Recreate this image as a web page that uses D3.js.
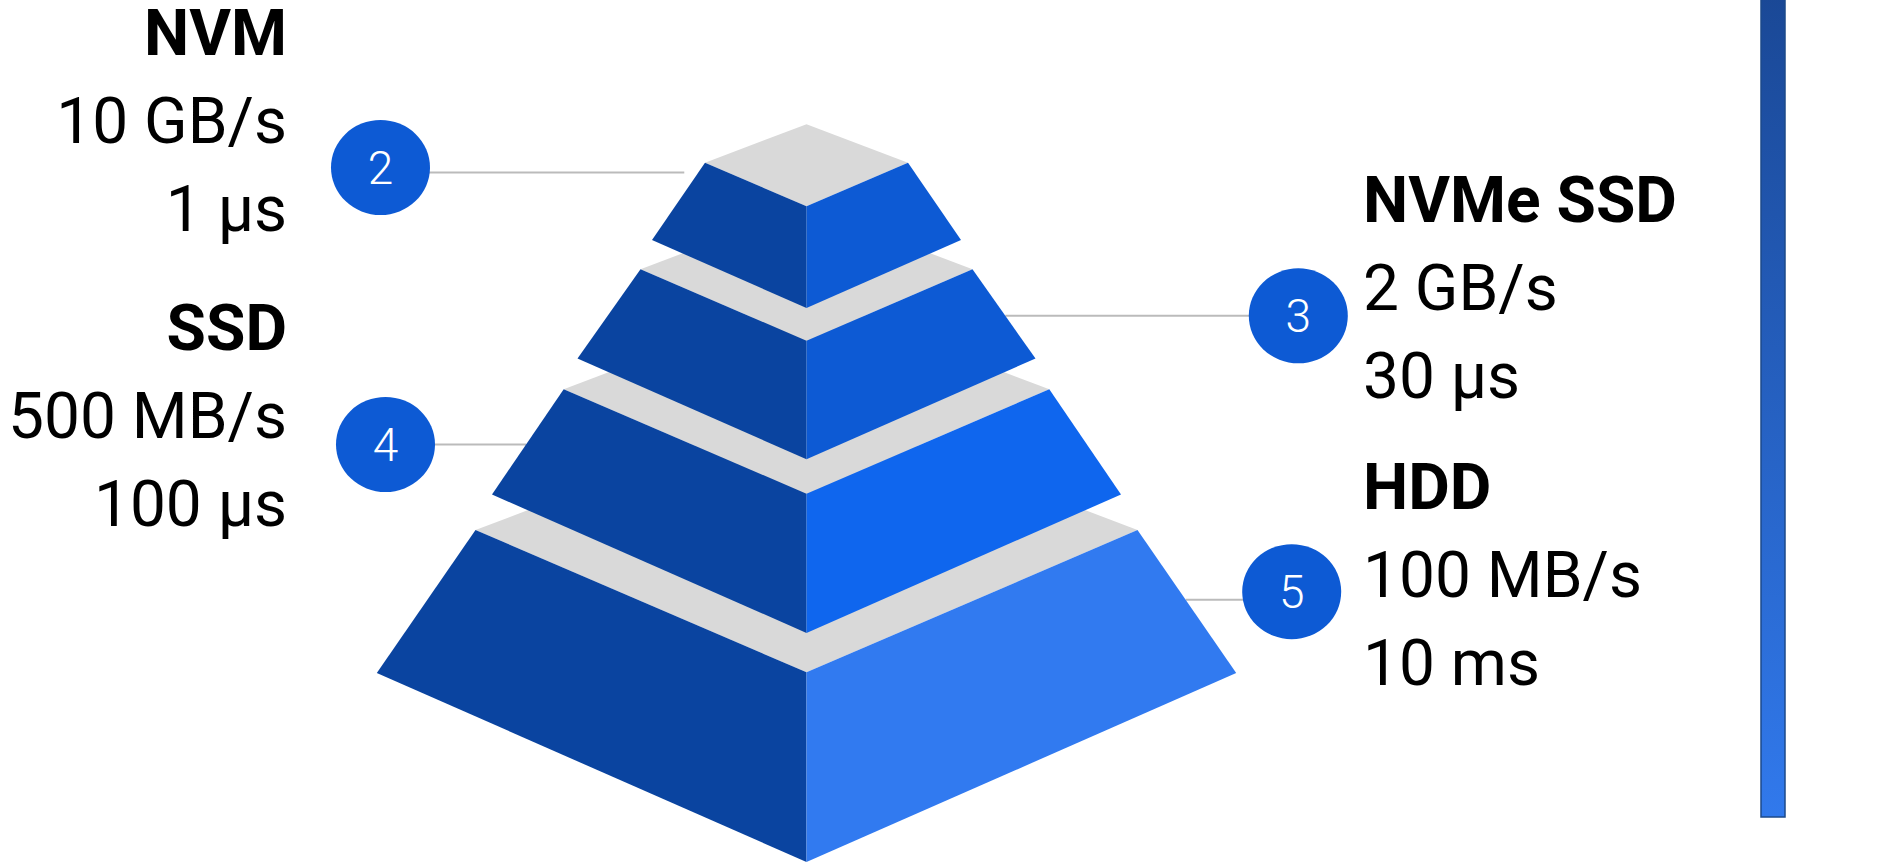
<!DOCTYPE html>
<html lang="en">
<head>
<meta charset="UTF-8">
<title>Storage pyramid</title>
<script src="https://d3js.org/d3.v7.min.js"></script>
<style>
    body { margin: 0; background: #fff; }
    text { font-family: Roboto, "Noto Sans", sans-serif; fill: #000; }
    .title { font-weight: bold; font-size: 64px; }
    .value { font-size: 64px; }
    .step  { font-size: 46px; font-weight: 300; fill: #fff; }
</style>
</head>
<body>
<script>
// chart values
var tiers     = ["NVM", "NVMe SSD", "SSD", "HDD"];
var bandwidth = ["10 GB/s", "2 GB/s", "500 MB/s", "100 MB/s"];
var latency   = ["1 µs", "30 µs", "100 µs", "10 ms"];
var steps     = [2, 3, 4, 5];
var side      = ["left", "right", "left", "right"];

var width = 1878, height = 865, cx = 806.5;

// layer geometry (corner y of top / bottom, half widths)
var topY = [162.7, 269.3, 389.3, 530],
    botY = [240, 358.5, 494.5, 673],
    topW = [101.5, 166, 242.8, 331],
    botW = [154.5, 229, 314.5, 429.7];
var kTop = 0.43, kBot = 0.44, kBack = 0.38;

// badge + label layout
var badgeX = [380.5, 1298.3, 385.5, 1291.7],
    badgeY = [167.5, 315.8, 444.5, 591.7],
    lineY  = [172.5, 315.8, 444.5, 599.7],
    labelY = [143, 310, 438.3, 596.7],   // baseline of middle line
    lineGap = [14, 0, 0, 0];

var leftColor = "#0a44a0",
    rightColor = ["#0d5ad4", "#0d5ad4", "#0f66ee", "#317af0"],
    grey = "#d9d9d9";

var svg = d3.select("body").append("svg")
    .attr("width", width)
    .attr("height", height);

var idx = d3.range(tiers.length);

// colour bar on the right
var defs = svg.append("defs");
var grad = defs.append("linearGradient")
    .attr("id", "bar").attr("x1", 0).attr("y1", 0).attr("x2", 0).attr("y2", 1);
grad.append("stop").attr("offset", "0%").attr("stop-color", "#1a4896");
grad.append("stop").attr("offset", "100%").attr("stop-color", "#3179ec");
svg.append("rect")
    .attr("x", 1761).attr("y", -5).attr("width", 24).attr("height", 822)
    .attr("fill", "url(#bar)")
    .attr("stroke", "#1d4a8a").attr("stroke-width", 1.5);

// edge x of a layer at a given y (for connector lines)
function edgeX(i, y, dir) {
    var t = (y - topY[i]) / (botY[i] - topY[i]);
    var w = topW[i] + t * (botW[i] - topW[i]);
    return cx + dir * w;
}

// connector lines
svg.append("g").selectAll("line")
    .data(idx)
    .enter().append("line")
    .attr("x1", function(i) { return badgeX[i]; })
    .attr("x2", function(i) {
        var dir = side[i] == "left" ? -1 : 1;
        return edgeX(i, lineY[i], dir) + dir * lineGap[i];
    })
    .attr("y1", function(i) { return lineY[i]; })
    .attr("y2", function(i) { return lineY[i]; })
    .attr("stroke", "#bbbbbb").attr("stroke-width", 2);

// pyramid, bottom layer first so upper layers sit on top
var line = d3.line();
var layers = svg.append("g").selectAll("g")
    .data(idx.slice().reverse())
    .enter().append("g");

layers.append("path")
    .attr("d", function(i) {
        return line([[cx - topW[i], topY[i]], [cx, topY[i] - kBack * topW[i]],
                     [cx + topW[i], topY[i]], [cx, topY[i] + kTop * topW[i]]]) + "Z";
    })
    .attr("fill", grey);

layers.append("path")
    .attr("d", function(i) {
        return line([[cx - topW[i], topY[i]], [cx, topY[i] + kTop * topW[i]],
                     [cx, botY[i] + kBot * botW[i]], [cx - botW[i], botY[i]]]) + "Z";
    })
    .attr("fill", leftColor);

layers.append("path")
    .attr("d", function(i) {
        return line([[cx + topW[i], topY[i]], [cx, topY[i] + kTop * topW[i]],
                     [cx, botY[i] + kBot * botW[i]], [cx + botW[i], botY[i]]]) + "Z";
    })
    .attr("fill", function(i) { return rightColor[i]; });

// numbered badges
var badges = svg.append("g").selectAll("g")
    .data(idx)
    .enter().append("g")
    .attr("transform", function(i) { return "translate(" + badgeX[i] + "," + badgeY[i] + ")"; });
badges.append("ellipse")
    .attr("rx", 49.5).attr("ry", 47.5)
    .attr("fill", "#0d5ad4");
badges.append("text")
    .attr("class", "step")
    .attr("text-anchor", "middle")
    .attr("dy", "0.36em")
    .text(function(i) { return steps[i]; });

// labels
var labels = svg.append("g").selectAll("text")
    .data(idx)
    .enter().append("text")
    .attr("x", function(i) { return side[i] == "left" ? 287 : 1363; })
    .attr("y", function(i) { return labelY[i]; })
    .attr("text-anchor", function(i) { return side[i] == "left" ? "end" : "start"; });

labels.append("tspan").attr("class", "title")
    .attr("x", function(i) { return side[i] == "left" ? 287 : 1363; })
    .attr("dy", -88)
    .text(function(i) { return tiers[i]; });
labels.append("tspan").attr("class", "value")
    .attr("x", function(i) { return side[i] == "left" ? 287 : 1363; })
    .attr("dy", 88)
    .text(function(i) { return bandwidth[i]; });
labels.append("tspan").attr("class", "value")
    .attr("x", function(i) { return side[i] == "left" ? 287 : 1363; })
    .attr("dy", 88)
    .text(function(i) { return latency[i]; });
</script>
</body>
</html>
